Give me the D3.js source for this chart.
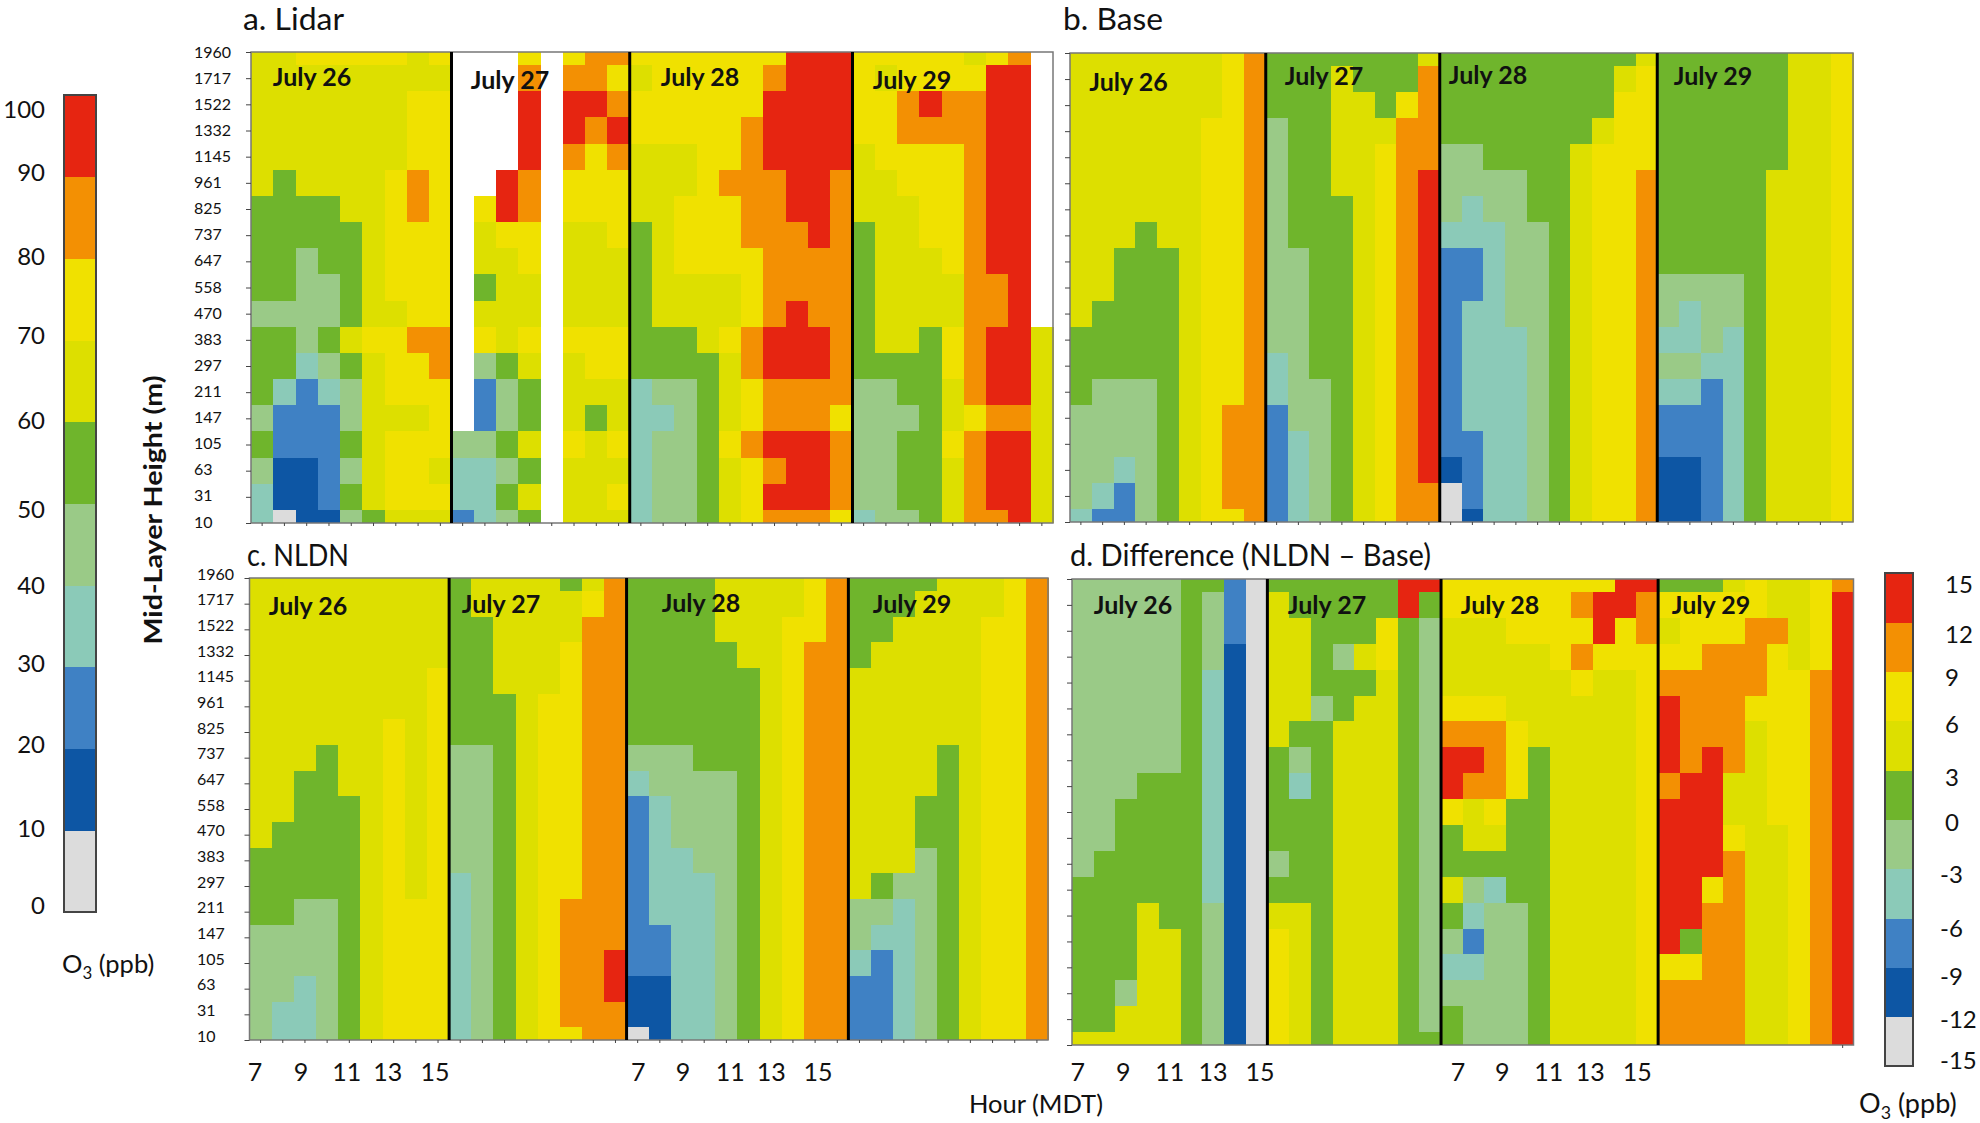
<!DOCTYPE html>
<html>
<head>
<meta charset="utf-8">
<script src="https://cdn.jsdelivr.net/npm/d3@7"></script>
<style>
html,body{margin:0;padding:0;background:#fff;}
svg{display:block;}
text{font-family:Lato,"Open Sans",sans-serif;fill:#111;}
</style>
</head>
<body>
<div id="chart"></div>
<script>
// Height levels (top to bottom) and hour labels
const heightLabels = ["1960","1717","1522","1332","1145","961","825","737","647","558","470","383","297","211","147","105","63","31","10"];
const hourLabels = ["7","9","11","13","15"];
const hourColumns = [0,2,4,6,8];
const dayNames = ["July 26","July 27","July 28","July 29"];
const dayColumnCounts = [9,8,10,9];
const o3Legend = ["100","90","80","70","60","50","40","30","20","10","0"];
const diffLegend = ["15","12","9","6","3","0","-3","-6","-9","-12","-15"];
// bin colours, lowest to highest
const binColors = ["#DCDCDC","#0D56A4","#3F81C4","#8BCAB8","#9ACA87","#6FB52C","#DDDF00","#F0E100","#F39003","#E62511"];

// Each string is one height row; each digit is the colour-bin of one hourly column, "." means no data.
const lidarJuly26 = ["667777767","666666666","666666677","666666677","666666677","656666787","555566787","555556777","554556777","554456777","444456677","554567788","553456778","532346777","422246667","522256777","411246776","311256777","301145666"];
const lidarJuly27 = ["...7.788","...8.887","...9.998","...9.989","...9.878","..98.777",".798.777",".677.667",".667.666",".566.666",".666.666",".767.777",".456.677",".245.666",".245.656","4456.767","3345.666","3356.667","2345.666"];
const lidarJuly28 = ["7777777999","6777778999","7777779999","7777789999","6667789999","6667888998","6677788998","5677788898","5677778888","5666678888","5666678988","5556789998","5555689998","3445678888","3345678887","3445789998","3445678998","3445679998","3445678887"];
const lidarJuly29 = ["77777678.","76777799.","77898899.","77888899.","67777899.","66777899.","66677899.","56677899.","56667899.","56666889.","56666889.","566578996","555578996","445568996","444567886","445578996","445568996","445568996","344568896"];

const baseJuly26 = ["666666678","666666678","666666678","666666778","666666778","666666778","666666778","666566778","665556778","665556778","655556778","555556778","555556778","544456778","444456788","444456788","443456788","432456788","322456778"];
const baseJuly27 = ["55555556","55565558","55566578","45566688","45566788","45566789","45556789","45556789","44556789","44556789","44556789","44556789","34556789","34456789","24456789","23456789","23456789","23456788","23456788"];
const baseJuly28 = ["5555555556","5555555567","5555555577","5555555677","4455556777","4444556778","4344556778","3334456778","2234456778","2234456778","2334456778","2333456778","2333456778","2333456778","2333456778","2233456778","1233456778","0233456778","0133456778"];
const baseJuly29 = ["555555667","555555667","555555667","555555667","555555667","555556667","555556667","555556667","555556667","444456667","434456667","334356667","443356667","332356667","222356667","222356667","112356667","112356667","112356667"];

const nldnJuly26 = ["666666666","666666666","666666666","666666666","666666667","666666667","666666767","666566767","665566767","665556767","655556767","555556767","555556767","554456777","444456777","444456777","443456777","433456777","433456777"];
const nldnJuly27 = ["56666568","56666678","55666688","55666788","55666788","55567788","55567788","44567788","44567788","44567788","44567788","44567788","34567788","34567888","34567888","34567889","34567889","34567888","34567788"];
const nldnJuly28 = ["5555666678","5555666678","5555666778","5555566788","5555556788","5555556788","5555556788","4445556788","3444456788","2344456788","2344456788","2334456788","2333456788","2333456788","2233456788","2233456788","1133456788","1133456788","0133456788"];
const nldnJuly29 = ["555566678","555666678","556666778","566666778","666666778","666666778","666666778","666656778","666656778","666556778","666556778","666456778","654456778","443456778","433456778","323456778","223456778","223456778","223456778"];

const diffJuly26 = ["444445520","444445420","444445420","444445410","444445310","444445310","444445310","444445310","444555310","445555310","445555310","455555310","555555310","555655410","555665410","555665410","554665410","556665410","666665410"];
const diffJuly27 = ["55555599","65555595","66555754","66546754","66555654","66456654","65566654","54566654","53566654","55566654","55566654","45566654","55566654","66566654","76566654","76566654","76566654","76566654","76566655"];
const diffJuly28 = ["7777777799","7777778998","6667777978","6666678777","6666667667","7776666667","8887666667","9987566667","9887566667","7675566667","5665566667","5555566667","6435566667","5344566667","4244566667","3344566667","4444566667","5444566667","5444566667"];
const diffJuly29 = ["555676678","777776679","677788679","778887679","888887789","988877789","988867789","989867789","899667789","999667789","999766789","999866789","997866789","998866789","958866789","778866789","888866789","888866789","888866789"];

const W = 1980, H = 1123;
const svg = d3.select("#chart").append("svg").attr("width", W).attr("height", H);
const color = d3.scaleThreshold().domain([1,2,3,4,5,6,7,8,9]).range(binColors);

const panels = [
  {title:"a. Lidar", tx:243, ty:30, tlen:101, days:[lidarJuly26,lidarJuly27,lidarJuly28,lidarJuly29], l:251, r:1053, t:52, b:523,
   labelX:194, labelTop:52, labelBottom:522, xticks:"all", dayPos:[[312,77],[510,80],[700,77],[912,80]]},
  {title:"b. Base", tx:1063, ty:30, tlen:100, days:[baseJuly26,baseJuly27,baseJuly28,baseJuly29], l:1070, r:1853, t:53, b:522,
   xticks:"all", dayPos:[[1128.5,82],[1324,76],[1488,75],[1713,76]]},
  {title:"c. NLDN", tx:247, ty:566, tlen:102, days:[nldnJuly26,nldnJuly27,nldnJuly28,nldnJuly29], l:249.5, r:1048, t:578, b:1040,
   labelX:197, labelTop:574, labelBottom:1036, xticks:"all", dayPos:[[308,606],[501,604],[701,603],[912,604]],
   hourDx:[[-5.6,-4,-2.6,-6,-3],[0.5,1,4,0.4,3]]},
  {title:"d. Difference (NLDN \u2013 Base)", tx:1070, ty:566, tlen:361, days:[diffJuly26,diffJuly27,diffJuly28,diffJuly29], l:1072, r:1853.5, t:579, b:1045,
   xticks:"last", dayPos:[[1133,605],[1327,605],[1500,605],[1711,605]], hourDx:[[-5,-3,0,0,3.5],[6,7,10,8,11.6]]}
];

panels.forEach(p => {
  const g = svg.append("g");
  const rows = heightLabels.map((_, r) => p.days.map(d => d[r]).join(""));
  const cols = d3.range(rows[0].length);
  const x = d3.scaleBand().domain(cols).range([p.l, p.r]);
  const yPoint = d3.scalePoint().domain(heightLabels).range([p.t, p.b]);
  const step = yPoint.step();

  const cells = [];
  rows.forEach((row, r) => cols.forEach(c => {
    if (row[c] !== ".") cells.push({row:heightLabels[r], col:c, bin:+row[c]});
  }));
  g.selectAll("rect.cell").data(cells).join("rect")
    .attr("class","cell")
    .attr("x", d => x(d.col))
    .attr("width", x.bandwidth() + 0.5)
    .attr("y", d => Math.max(p.t, yPoint(d.row) - step/2))
    .attr("height", d => Math.min(p.b, yPoint(d.row) + step/2) - Math.max(p.t, yPoint(d.row) - step/2))
    .attr("fill", d => color(d.bin))
    .attr("shape-rendering","crispEdges");

  // frame
  g.append("rect").attr("x",p.l).attr("y",p.t).attr("width",p.r-p.l).attr("height",p.b-p.t)
    .attr("fill","none").attr("stroke","#777").attr("stroke-width",1.5);

  // axes (ticks)
  const yAxis = d3.axisLeft(yPoint).tickSize(5).tickFormat("");
  const ay = g.append("g").attr("transform",`translate(${p.l},0)`).call(yAxis);
  const tickVals = p.xticks === "all" ? cols : [cols[cols.length-1]];
  const xAxis = d3.axisBottom(x).tickValues(tickVals).tickSize(3).tickFormat("");
  const ax = g.append("g").attr("transform",`translate(0,${p.b})`).call(xAxis);
  [ay,ax].forEach(a => { a.select(".domain").remove(); a.selectAll("line").attr("stroke","#444").attr("stroke-width",1); });

  // day separators
  let cum = 0;
  dayColumnCounts.forEach((n,i) => {
    if (i > 0) {
      g.append("line").attr("x1",x(cum)).attr("x2",x(cum)).attr("y1",p.t).attr("y2",p.b)
        .attr("stroke","#000").attr("stroke-width",3);
    }
    g.append("text").attr("x",p.dayPos[i][0]).attr("y",p.dayPos[i][1]).attr("dy","0.35em")
      .attr("text-anchor","middle").attr("font-size",25).attr("font-weight",700).attr("fill","#000")
      .text(dayNames[i]);
    cum += n;
  });

  // height labels
  if (p.labelX) {
    const yLab = d3.scalePoint().domain(heightLabels).range([p.labelTop,p.labelBottom]);
    g.selectAll("text.h").data(heightLabels).join("text").attr("class","h")
      .attr("x",p.labelX).attr("y",d => yLab(d)).attr("dy","0.35em")
      .attr("font-size",16).text(d => d);
  }

  // hour labels
  if (p.hourDx) {
    [0,17].forEach((start,gi) => {
      hourLabels.forEach((lab,i) => {
        g.append("text").attr("x",x(start+hourColumns[i])+x.bandwidth()/2+p.hourDx[gi][i]).attr("y",1072).attr("dy","0.35em")
          .attr("text-anchor","middle").attr("font-size",25).text(lab);
      });
    });
  }

  // title
  g.append("text").attr("x",p.tx).attr("y",p.ty).attr("font-size",30).attr("fill","#111")
    .attr("textLength",p.tlen).attr("lengthAdjust","spacingAndGlyphs").text(p.title);
});

// Colour legends
function legend(cfg) {
  const g = svg.append("g");
  const yb = d3.scaleBand().domain(d3.range(9,-1,-1)).range([cfg.top,cfg.bottom]);
  g.selectAll("rect").data(d3.range(10)).join("rect")
    .attr("x",cfg.x).attr("width",cfg.w).attr("y",d=>yb(d)).attr("height",yb.bandwidth()+0.5)
    .attr("fill",d=>color(d)).attr("shape-rendering","crispEdges");
  g.append("rect").attr("x",cfg.x).attr("y",cfg.top).attr("width",cfg.w).attr("height",cfg.bottom-cfg.top)
    .attr("fill","none").attr("stroke","#444").attr("stroke-width",2);
  const yl = d3.scalePoint().domain(cfg.labels).range([cfg.labTop,cfg.labBottom]);
  g.selectAll("text").data(cfg.labels).join("text")
    .attr("x",d=>cfg.labX(d)).attr("y",(d,i)=>yl(d)+cfg.nudge[i]).attr("dy","0.35em")
    .attr("text-anchor",cfg.anchor).attr("font-size",24).text(d=>d);
}
legend({labels:o3Legend, x:64, w:32, top:95, bottom:912, labX:()=>45, anchor:"end", labTop:110, labBottom:906,
  nudge:[0,-17,-13,-13,-8,2,-2,-4,-2,2,0]});
legend({labels:diffLegend, x:1885, w:28, top:573, bottom:1066, labX:d=>d[0]==="-"?1940:1945, anchor:"start", labTop:585, labBottom:1061,
  nudge:[0,2,-3,-3,2,0,4,10,11,6,0]});

// Axis titles
function o3(x,y,fs){
  const t = svg.append("text").attr("x",x).attr("y",y).attr("font-size",fs);
  t.append("tspan").text("O");
  t.append("tspan").attr("dy",6).attr("font-size",fs*0.66).text("3");
  t.append("tspan").attr("dy",-6).text(" (ppb)");
}
o3(62,973,25.5);
o3(1859,1113,27);
svg.append("text").attr("x",1036).attr("y",1104).attr("dy","0.35em").attr("text-anchor","middle")
  .attr("font-size",25.5).text("Hour (MDT)");
svg.append("text").attr("transform","translate(153,510) rotate(-90)").attr("dy","0.35em")
  .attr("text-anchor","middle").attr("font-size",25).attr("font-weight",700).attr("fill","#000")
  .attr("textLength",269).attr("lengthAdjust","spacingAndGlyphs").text("Mid-Layer Height (m)");
</script>
</body>
</html>
